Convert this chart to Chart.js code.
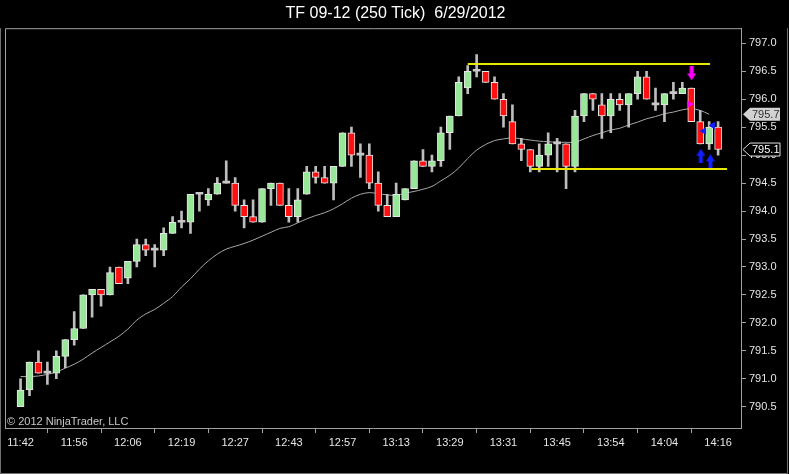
<!DOCTYPE html>
<html>
<head>
<meta charset="utf-8">
<title>TF 09-12 (250 Tick)</title>
<script src="https://cdn.jsdelivr.net/npm/chart.js@4.4.1/dist/chart.umd.min.js"></script>
<style>
  html, body { margin: 0; padding: 0; background: #000; }
  #wrap { width: 789px; height: 474px; }
</style>
</head>
<body>
<div id="wrap"><canvas id="candleChart" width="789" height="474"></canvas></div>
<script>
// bar data (250 tick bars)
const opens  = [790.5, 790.8, 791.3, 791.1, 791.1, 791.4, 791.7, 791.9, 792.5, 792.6,
                792.5, 793.0, 792.8, 793.1, 793.4, 793.3, 793.3, 793.6, 793.8, 793.8,
                794.3, 794.2, 794.3, 794.5, 794.5, 794.1, 793.9, 793.8, 794.4, 794.5,
                794.1, 793.9, 794.3, 794.7, 794.6, 794.5, 794.8, 795.4, 795.0, 795.0,
                794.5, 794.1, 793.9, 794.2, 794.4, 794.9, 794.8, 794.9, 795.4, 795.7,
                796.2, 796.5, 796.5, 796.3, 796.0, 795.6, 795.2, 795.1, 794.8, 795.0,
                795.2, 795.2, 794.8, 795.7, 796.1, 795.9, 795.7, 796.0, 795.9, 796.1,
                796.4, 795.9, 795.9, 796.1, 796.1, 796.2, 795.6, 795.2, 795.5];
const highs  = [791.0, 791.3, 791.5, 791.3, 791.5, 791.7, 792.2, 792.5, 792.6, 792.6,
                793.0, 793.0, 793.1, 793.5, 793.5, 793.4, 793.7, 793.9, 794.0, 794.3,
                794.3, 794.4, 794.6, 794.9, 794.6, 794.2, 794.2, 794.4, 794.5, 794.5,
                794.4, 794.4, 794.8, 794.8, 794.8, 794.8, 795.4, 795.5, 795.2, 795.2,
                794.7, 794.3, 794.5, 794.4, 794.9, 795.1, 795.0, 795.5, 795.7, 796.4,
                796.6, 796.8, 796.5, 796.4, 796.1, 795.9, 795.3, 795.1, 795.2, 795.4,
                795.3, 795.2, 795.8, 796.1, 796.1, 796.1, 796.1, 796.1, 796.1, 796.5,
                796.5, 796.2, 796.1, 796.3, 796.3, 796.2, 795.8, 795.6, 795.6];
const lows   = [790.5, 790.7, 791.1, 790.9, 791.0, 791.2, 791.6, 791.9, 792.1, 792.3,
                792.5, 792.7, 792.7, 793.0, 793.2, 793.0, 793.2, 793.6, 793.7, 793.6,
                794.0, 794.1, 794.3, 794.5, 794.0, 793.7, 793.8, 793.8, 794.1, 794.1,
                793.8, 793.8, 794.3, 794.5, 794.5, 794.2, 794.8, 794.8, 794.6, 794.4,
                794.0, 793.9, 793.9, 794.2, 794.4, 794.8, 794.7, 794.8, 795.1, 795.7,
                796.1, 796.4, 796.3, 796.0, 795.5, 795.2, 794.9, 794.7, 794.7, 794.8,
                794.7, 794.4, 794.7, 795.6, 795.8, 795.3, 795.4, 795.8, 795.5, 796.0,
                796.0, 795.8, 795.6, 796.0, 796.1, 795.6, 795.2, 795.1, 795.0];
const closes = [790.8, 791.3, 791.1, 791.1, 791.4, 791.7, 791.9, 792.5, 792.6, 792.5,
                792.9, 792.7, 793.1, 793.4, 793.3, 793.3, 793.6, 793.8, 793.8, 794.3,
                794.3, 794.3, 794.5, 794.5, 794.1, 793.9, 793.8, 794.4, 794.5, 794.1,
                793.9, 794.2, 794.7, 794.6, 794.5, 794.8, 795.4, 795.0, 795.0, 794.5,
                794.1, 793.9, 794.3, 794.4, 794.9, 794.8, 794.9, 795.4, 795.7, 796.3,
                796.5, 796.5, 796.3, 796.0, 795.7, 795.2, 795.1, 794.8, 795.0, 795.2,
                795.2, 794.8, 795.7, 796.1, 796.0, 795.7, 796.0, 795.9, 796.1, 796.4,
                796.0, 795.9, 796.1, 796.1, 796.2, 795.6, 795.2, 795.5, 795.1];

// moving average (grey line), last bar has no value drawn
const smaValues = [791.04, 791.04, 791.05, 791.08, 791.12, 791.19, 791.26, 791.35, 791.46, 791.56,
                   791.66, 791.76, 791.89, 792.05, 792.16, 792.24, 792.35, 792.47, 792.64, 792.79,
                   792.96, 793.11, 793.23, 793.32, 793.37, 793.42, 793.48, 793.55, 793.62, 793.69,
                   793.72, 793.79, 793.86, 793.92, 793.97, 794.04, 794.13, 794.23, 794.30, 794.33,
                   794.31, 794.29, 794.28, 794.32, 794.35, 794.39, 794.44, 794.54, 794.64, 794.77,
                   794.94, 795.09, 795.19, 795.26, 795.29, 795.31, 795.29, 795.27, 795.25, 795.24,
                   795.23, 795.23, 795.23, 795.29, 795.35, 795.40, 795.45, 795.48, 795.54, 795.59,
                   795.65, 795.69, 795.74, 795.77, 795.81, 795.83, 795.80, 795.73, null];

// time axis labels, one every 6 bars
const timeLabels = ['11:42', '11:56', '12:06', '12:19', '12:27', '12:43', '12:57',
                    '13:13', '13:29', '13:31', '13:45', '13:54', '14:04', '14:16'];
const timeTickIdx = [0, 6, 12, 18, 24, 30, 36, 42, 48, 54, 60, 66, 72, 78];
const priceTicks = [790.5, 791.0, 791.5, 792.0, 792.5, 793.0, 793.5,
                    794.0, 794.5, 795.0, 795.5, 796.0, 796.5, 797.0];

// yellow range lines: [startBar, endBar], price
const rangeTopX = [50.0, 77.1];
const rangeTopPrice = 796.63;
const rangeBottomX = [57.1, 79.0];
const rangeBottomPrice = 794.75;

// signal markers
const downArrowX = [75.04];
const downArrowY = [796.46];
const upArrowX = [76.07, 77.14];
const upArrowY = [794.99, 794.89];
const pinkDotX = [74.8];
const pinkDotY = [795.91];
const blueDotX = [76.4, 77.4];
const blueDotY = [795.43, 795.53];

const FONT = '"Liberation Sans", Arial, sans-serif';
const UP_COLOR = '#98e698';
const DOWN_COLOR = '#ff1010';

function arrowImage(color, up) {
    const c = document.createElement('canvas');
    c.width = 9; c.height = 14;
    const g = c.getContext('2d');
    g.fillStyle = color;
    g.beginPath();
    if (up) {
        g.moveTo(4.5, 0); g.lineTo(9, 7); g.lineTo(0, 7);
        g.closePath(); g.fill();
        g.fillRect(2.5, 6, 4, 8);
    } else {
        g.moveTo(4.5, 14); g.lineTo(9, 7); g.lineTo(0, 7);
        g.closePath(); g.fill();
        g.fillRect(2.5, 0, 4, 8);
    }
    return c;
}

function drawFlag(ctx, x, y, text, filled) {
    ctx.save();
    ctx.beginPath();
    ctx.moveTo(x, y);
    ctx.lineTo(x + 7, y - 6.5);
    ctx.lineTo(x + 37, y - 6.5);
    ctx.lineTo(x + 37, y + 6.5);
    ctx.lineTo(x + 7, y + 6.5);
    ctx.closePath();
    ctx.fillStyle = filled ? '#d2d2d2' : '#000000';
    ctx.fill();
    if (!filled) {
        ctx.strokeStyle = '#e0e0e0';
        ctx.lineWidth = 1;
        ctx.stroke();
    }
    ctx.fillStyle = filled ? '#303030' : '#ffffff';
    ctx.font = '11px ' + FONT;
    ctx.textBaseline = 'middle';
    ctx.fillText(text, x + 9, y + 0.5);
    ctx.restore();
}

const framePlugin = {
    id: 'frame',
    beforeDraw(chart) {
        const ctx = chart.ctx;
        ctx.save();
        ctx.fillStyle = '#000';
        ctx.fillRect(0, 0, chart.width, chart.height);
        ctx.restore();
    },
    afterDraw(chart) {
        const ctx = chart.ctx;
        const a = chart.chartArea;
        const yScale = chart.scales.y;
        ctx.save();
        // left + top edges of the plot box
        ctx.strokeStyle = '#a0a0a0';
        ctx.lineWidth = 1;
        ctx.beginPath();
        ctx.moveTo(a.left + 0.5, a.bottom);
        ctx.lineTo(a.left + 0.5, a.top + 0.5);
        ctx.lineTo(a.right, a.top + 0.5);
        ctx.stroke();
        // window edge
        ctx.strokeStyle = '#707070';
        ctx.beginPath();
        ctx.moveTo(0.5, a.top);
        ctx.lineTo(0.5, chart.height - 0.5);
        ctx.lineTo(chart.width - 1.5, chart.height - 0.5);
        ctx.lineTo(chart.width - 1.5, a.top);
        ctx.stroke();
        // copyright
        ctx.fillStyle = '#c8c8c8';
        ctx.font = '11px ' + FONT;
        ctx.textBaseline = 'alphabetic';
        ctx.fillText('\u00a9 2012 NinjaTrader, LLC', a.left + 2, a.bottom - 3);
        ctx.restore();

        // price flags on the right axis
        const smaLast = smaValues.filter(v => v !== null).pop();
        const lastClose = closes[closes.length - 1];
        drawFlag(ctx, a.right + 2, yScale.getPixelForValue(smaLast), smaLast.toFixed(1), true);
        drawFlag(ctx, a.right + 2, yScale.getPixelForValue(lastClose), lastClose.toFixed(1), false);
    }
};

const bodyColor = (i) => closes[i] > opens[i] ? UP_COLOR : (closes[i] < opens[i] ? DOWN_COLOR : '#c8c8c8');

const ctx = document.getElementById('candleChart').getContext('2d');
new Chart(ctx, {
    type: 'bar',
    data: {
        datasets: [
            {
                type: 'scatter',
                data: downArrowX.map((x, i) => ({ x: x, y: downArrowY[i] })),
                pointStyle: arrowImage('#ff00ff', false),
                order: 0
            },
            {
                type: 'scatter',
                data: upArrowX.map((x, i) => ({ x: x, y: upArrowY[i] })),
                pointStyle: arrowImage('#1020ff', true),
                order: 0
            },
            {
                type: 'scatter',
                data: pinkDotX.map((x, i) => ({ x: x, y: pinkDotY[i] })),
                pointStyle: 'triangle',
                rotation: 90,
                radius: 3.5,
                backgroundColor: '#ff00ff',
                borderColor: '#ff00ff',
                order: 0
            },
            {
                type: 'scatter',
                data: blueDotX.map((x, i) => ({ x: x, y: blueDotY[i] })),
                pointStyle: 'triangle',
                rotation: -90,
                radius: 3.5,
                backgroundColor: '#1020ff',
                borderColor: '#1020ff',
                order: 0
            },
            {
                type: 'line',
                data: rangeTopX.map(x => ({ x: x, y: rangeTopPrice })),
                borderColor: '#e8e800',
                borderWidth: 2,
                pointRadius: 0,
                order: 1
            },
            {
                type: 'line',
                data: rangeBottomX.map(x => ({ x: x, y: rangeBottomPrice })),
                borderColor: '#e8e800',
                borderWidth: 2,
                pointRadius: 0,
                order: 1
            },
            {
                // candle bodies
                data: opens.map((o, i) => ({ x: i, y: [o, closes[i]] })),
                grouped: false,
                barThickness: 7,
                minBarLength: 2,
                borderSkipped: false,
                backgroundColor: c => bodyColor(c.dataIndex),
                borderColor: c => closes[c.dataIndex] === opens[c.dataIndex] ? '#c8c8c8' : '#e6e6e6',
                borderWidth: c => closes[c.dataIndex] === opens[c.dataIndex] ? 0 : 1,
                order: 2
            },
            {
                // wicks
                data: lows.map((l, i) => ({ x: i, y: [l, highs[i]] })),
                grouped: false,
                barThickness: 2,
                borderSkipped: false,
                borderWidth: 0,
                backgroundColor: '#bdbdbd',
                order: 3
            },
            {
                type: 'line',
                data: smaValues.map((v, i) => ({ x: i, y: v })),
                borderColor: '#a8a8a8',
                borderWidth: 1,
                pointRadius: 0,
                tension: 0.3,
                spanGaps: false,
                order: 4
            }
        ]
    },
    options: {
        responsive: false,
        animation: false,
        layout: { padding: { left: 2, right: 0, top: 0, bottom: 0 } },
        plugins: {
            legend: { display: false },
            tooltip: { enabled: false },
            title: {
                display: true,
                text: 'TF 09-12 (250 Tick)  6/29/2012',
                color: '#ffffff',
                font: { family: FONT, size: 16, weight: 'normal' },
                padding: { top: 4, bottom: 5 }
            }
        },
        scales: {
            x: {
                type: 'linear',
                min: -1.74,
                max: 80.56,
                offset: false,
                afterFit: s => { s.height = 46; },
                afterBuildTicks: s => { s.ticks = timeTickIdx.map(v => ({ value: v })); },
                ticks: {
                    autoSkip: false,
                    maxRotation: 0,
                    padding: 3,
                    color: '#e6e6e6',
                    font: { family: FONT, size: 11 },
                    callback: v => timeLabels[timeTickIdx.indexOf(v)]
                },
                grid: { drawOnChartArea: false, tickLength: 5, color: '#a0a0a0' },
                border: { color: '#a0a0a0' }
            },
            y: {
                position: 'right',
                min: 790.12,
                max: 797.27,
                afterFit: s => { s.width = 48; },
                afterBuildTicks: s => { s.ticks = priceTicks.map(v => ({ value: v })); },
                ticks: {
                    padding: 3,
                    color: '#e6e6e6',
                    font: { family: FONT, size: 11 },
                    callback: v => Number(v).toFixed(1)
                },
                grid: { drawOnChartArea: false, tickLength: 5, color: '#a0a0a0' },
                border: { color: '#a0a0a0' }
            }
        }
    },
    plugins: [framePlugin]
});
</script>
</body>
</html>
